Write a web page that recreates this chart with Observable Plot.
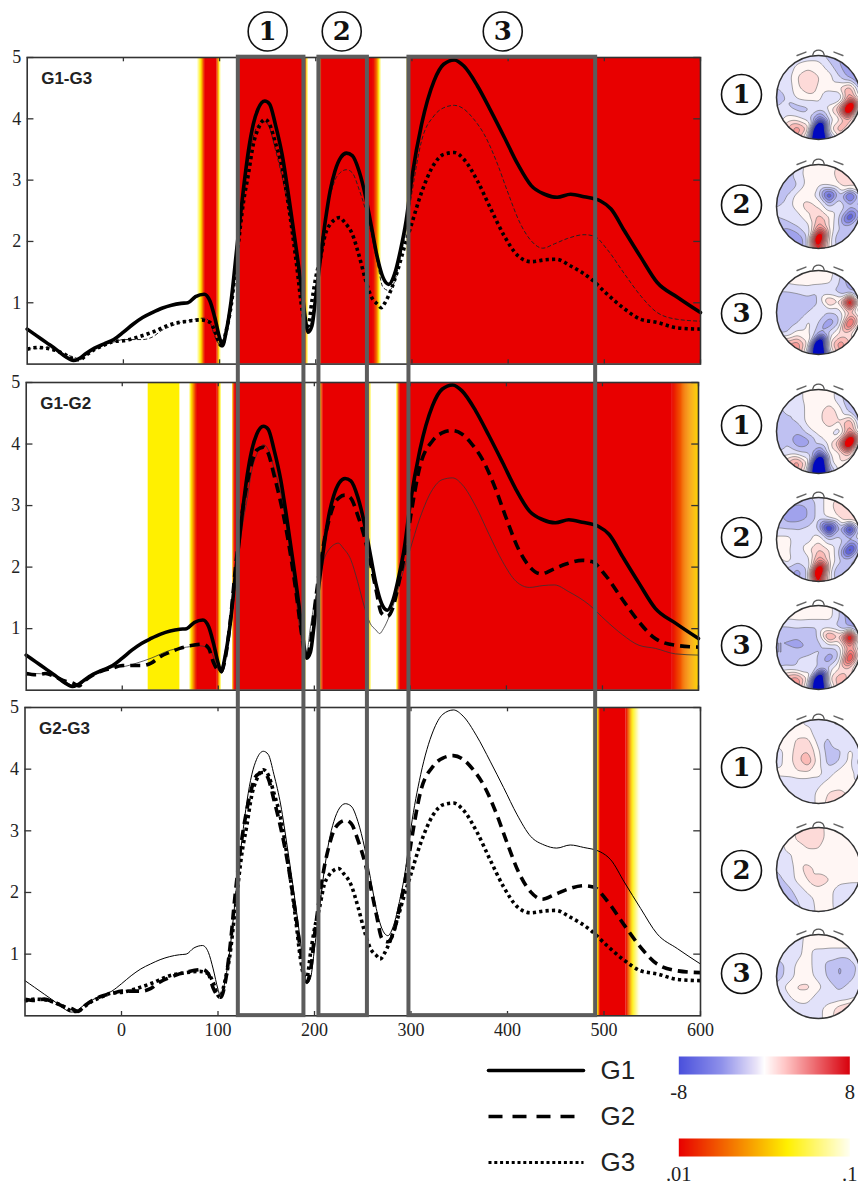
<!DOCTYPE html>
<html>
<head>
<meta charset="utf-8">
<script src="https://cdn.jsdelivr.net/npm/d3@7"></script>
<script src="https://cdn.jsdelivr.net/npm/@observablehq/plot@0.6"></script>
<style>
html,body{margin:0;padding:0;background:#fff;}
#page{position:relative;width:858px;height:1185px;overflow:hidden;background:#fff;}
#page>svg{position:absolute;background:transparent;}
</style>
</head>
<body>
<div id="page"></div>
<script>
// ---------- curves (ms, amplitude) ----------
const timesG1=[-100,-90,-80,-70,-60,-52,-45,-40,-30,-20,-10,0,10,20,30,40,50,60,67,75,84,90,95,100,103,107,112,118,125,130,135,140,147,152,158,165,172,180,186,190,192,196,200,205,210,215,220,226,232,238,245,252,258,264,270,276,282,288,294,300,310,323,333,344,354,368,382,396,410,424,438,451,465,479,496,507,521,538,555,576,600];
const valuesG1=[.57,.46,.35,.24,.12,.06,.10,.16,.26,.33,.40,.52,.65,.76,.84,.91,.96,.99,1.0,1.10,1.14,1.03,.76,.43,.30,.54,1.03,1.9,2.88,3.48,3.91,4.16,4.29,4.24,3.91,3.42,2.72,1.85,1.14,.65,.52,.62,1.09,1.74,2.34,2.83,3.15,3.37,3.44,3.4,3.15,2.72,2.23,1.74,1.41,1.30,1.47,1.85,2.34,3.05,3.91,4.62,4.89,4.96,4.86,4.54,4.13,3.70,3.26,2.91,2.77,2.72,2.77,2.73,2.66,2.53,2.17,1.74,1.33,1.09,.84];
const timesG2=[-100,-90,-80,-70,-60,-52,-45,-40,-30,-20,-10,0,10,20,30,40,50,60,70,84,90,95,100,103,107,112,118,125,130,135,140,147,152,158,165,172,180,186,190,192,196,200,205,210,215,220,226,232,238,245,252,258,264,270,276,282,288,294,300,310,323,333,344,354,364,375,389,399,413,424,436,448,462,479,489,503,521,538,555,576,600];
const valuesG2=[.27,.25,.27,.22,.15,.12,.07,.14,.25,.32,.36,.40,.40,.40,.44,.55,.62,.68,.72,.75,.68,.45,.32,.30,.5,1.05,2.0,2.9,3.35,3.7,3.9,3.95,3.85,3.5,3.05,2.5,1.7,1.0,.6,.55,.75,1.3,1.9,2.4,2.75,3.0,3.13,3.17,3.12,2.85,2.5,2.1,1.65,1.25,1.2,1.35,1.75,2.2,2.8,3.64,4.05,4.18,4.22,4.16,4.0,3.75,3.26,2.83,2.28,2.01,1.89,1.96,2.05,2.11,2.09,1.87,1.47,1.11,.84,.73,.70];
const timesG3=[-100,-90,-80,-70,-60,-52,-45,-40,-30,-20,-10,0,15,30,50,67,81,90,95,100,102,107,112,118,125,130,135,140,147,152,158,165,172,180,186,189,192,196,200,205,210,215,220,225,230,238,245,252,258,264,268,272,278,285,292,299,310,323,333,344,354,368,382,396,410,424,438,450,465,486,503,521,538,555,576,600];
const valuesG3=[.24,.27,.26,.22,.15,.08,.07,.13,.24,.31,.37,.38,.44,.52,.65,.70,.72,.68,.54,.33,.30,.55,.95,1.75,2.66,3.1,3.58,3.83,3.99,3.91,3.61,3.2,2.55,1.63,.87,.65,.62,1.03,1.41,1.74,2.12,2.28,2.36,2.39,2.31,2.12,1.77,1.36,1.09,.98,.92,1.0,1.2,1.52,1.9,2.25,2.80,3.26,3.42,3.45,3.34,2.99,2.53,2.09,1.77,1.67,1.70,1.71,1.60,1.39,1.14,.90,.73,.68,.59,.57];

// ---------- significance bands: stops of [ms, p] ----------
const bandsG1G3=[
  [[77,.1],[81,.043],[85,.01],[97,.01],[100,.043],[101,.1]],
  [[118,.05],[120,.01],[189,.01],[191,.043],[192,.1]],
  [[203,.1],[204,.043],[206,.01],[260,.01],[264,.02],[266,.043],[268,.1]],
  [[295,.06],[297,.01],[600,.01]]
];
const bandsG1G2=[
  [[27,.043],[60,.043]],
  [[70,.1],[72,.043],[78,.01],[99,.01],[102,.043],[103,.1]],
  [[115,.043],[117,.01],[189,.01],[191,.1]],
  [[205,.1],[206,.043],[209,.01],[255,.01],[258,.043],[259,.1]],
  [[286,.06],[289,.01],[572,.01],[585,.02],[600,.036]]
];
const bandsG2G3=[
  [[488,.1],[494,.043],[496,.01],[523,.01],[530,.043],[537,.1]]
];

// ---------- axes, analysis windows ----------
const xTicks=[0,100,200,300,400,500,600];
const yTicks=[1,2,3,4,5];
const panelNames=["G1-G3","G1-G2","G2-G3"];
const windowStarts=[119.5,203.3,296.9];
const windowEnds=[187.7,253.7,491];
const windowLabels=["1","2","3"];
const windowLabelTimes=[150,227,394.4];

// ---------- scalp maps: 9x9 amplitudes, rows top to bottom ----------
const headA1=[-1,-1,-1,-.5,-.5,-1.5,-2,-2,-2, -1,-.8,.3,.5,.5,-.5,-2,-2.5,-2.5, -1,-.6,1,2.2,1,.5,-1,-2.5,-3, -1,-.8,.8,2,.8,.5,1,2.5,-2, -1.2,-1,.3,.5,.4,-1,-1.5,4,-1, -1,-.8,-1.5,-1.2,-.3,.4,3,16,-2, -1,.3,.3,-.5,-4,-.5,.5,3,-3, 1,2,4,2,-16,.5,3,.5,-3, 1,2,3,-1,-18,-3,1,-1,-2];
const headA2=[-1,-1,-1,.5,.5,.5,1,1,1, -1.5,-1.5,-.5,.5,.5,.5,1.5,1,1, -2,-2,-1,.5,.3,.3,1,1.5,1, -2,-1,.5,.5,-.5,-6,-1,-6,-1, -1,-.5,.5,1.5,1,-1,-.5,-1.5,-.5, -1,-.5,-.5,.8,2.5,1,-1,-6,-1, -1.5,-2,-1,-.5,4,.8,-1,-1,-1, -3,-3,-3,-1,14,.5,-2,-1.5,-1, -3,-3,-3,-1,8,.5,-1.5,-1,-1];
const headA3=[-.5,.5,.5,.5,.5,.5,-.5,-3,-3, -.5,.3,.5,.5,.5,.3,-1,-3,-3, -1,-1,-.8,-.5,-1,-1,-1.5,-2,-2, -2,-2,-1.8,-1.5,-1,2.5,1,12,-1, -2,-2,-2,-1,-.5,-1,-.5,2,-1, -2,-1.8,-1,.3,-1,-3,-1,7,0, -1,-1,.5,.3,-2,-.5,1,1,-1, 2,3,4,1,-14,1,4,2,-1, 2,3,4,-1,-16,-1,3,1,-1];
const headB1=[-1,-1,-.5,.5,.5,.5,-.5,-2,-2, -1,-1,-.5,.5,.5,.5,-.5,-2,-2.5, -1,-1,-1,.5,.5,1.8,.5,-1.5,-2.5, -1.2,-1,-1,.5,.5,2,1,3,-2, -1.5,-1,-1.8,-.5,.5,.5,-1,4,-1.5, -1.5,-1,-3,-2.5,-.5,.5,3,16,-1, -1,-.8,-.8,-1,-4,.2,.8,3,-3, 1,2,4,1,-16,-.5,1,-.5,-3, 1,2,3,-1,-18,-3,.5,-1,-2];
const headB2=[-1,-1,-1,-1,-.5,.5,1,1,1, -1.5,-2,-2.5,-2,-.5,.5,1.8,2,1, -1.5,-2.5,-2.5,-2,-.5,.3,1,2,1, -1,-1,-1,-.7,-1,-8,-1.5,-8,0, .5,.5,-.8,-.5,.8,-1,-.8,-1.5,-.5, .5,.3,-.8,.8,2.2,1,-1,-7,-.7, -.7,.5,-.7,-.5,4,1,-.7,-1,-.7, -1,-1.5,-2.5,-1,15,.5,-2.5,-1,-.7, -1,-1,-2,-1,9,.5,-2,-1,-.7];
const headB3=[.5,.5,.5,.5,.5,.5,-1,-3,-3, -.5,.4,.5,.5,.5,.5,-1,-3,-3, -1,-1,-.8,-1,-1,-.8,-1.5,-2.5,-2, -2,-2,-2,-1.5,-1,4,2,12,-1, -2,-2,-2.2,-2,-1,-1,-.5,4,-1, -2,-2,-1,-.7,-1,-3,-.7,8,-.5, -1,-.5,-.8,-.5,-1,-.5,1,1.5,-1, 2,3,4,1,-14,1,3,1.5,-1, 2,3,4,-1,-16,-1,3,1,-1];
const headC1=[.5,.5,.5,-.5,-.8,-1,-1,-1,-1, .5,.5,.5,.3,-.8,-1,-1,-1,-1, .5,.4,1.2,1.3,-.5,-1.2,.5,-1,-1, -.5,.3,1.5,2,.2,-1.7,-1.2,.4,-1, -.5,.4,1.6,3,.4,-1.5,-1,.4,-1.7, .3,.4,1,1,.4,-.5,.4,.4,-.5, -.5,-.5,-.6,-.6,-.3,.3,.4,.2,0, -.5,-.5,-.6,-.6,.3,1.1,1.3,.5,.3, -.5,-.5,-.6,-.6,.3,1.5,3,1,.3];
const headC2=[.3,.3,1.2,1.5,1.5,.5,.3,.3,.3, .3,.3,1.2,1.8,1.6,.5,.3,.3,.3, -.7,.3,.4,1,1,.4,.3,.3,.3, -.7,-.4,.5,.4,.3,.3,.3,.3,.3, -1,-.7,.4,1.6,.6,.3,.3,.3,.3, -1.3,-.8,.3,1.1,1.7,1.1,.3,.3,.3, -2,-1.3,-.7,.3,.7,.3,-.5,-.8,-.8, -2.5,-1.8,-1,-.5,.4,.3,-.5,-1,-1, -2.5,-2,-1.3,-.6,.3,.3,-.3,-1,-1];
const headC3=[-.5,-.5,-.5,.3,.3,.3,.3,.3,.3, -.7,-.7,-.3,.3,.3,.3,.3,.3,.3, -.8,-.8,-.2,.3,-.5,-.7,-.7,-.7,-.7, -1.6,-.8,.3,.3,-.5,-1.3,-2.2,-1.4,-.7, -1.6,-.7,.3,.4,-.4,-1.2,-2.2,-1.3,-.6, -.7,.3,1.2,1.3,.3,-.5,-1.2,-.7,-.5, -.7,-.4,.7,.4,-.5,-.6,-.6,-.5,.3, -.7,-.7,-.7,-.4,-.3,.5,1.5,2.5,1.2, -.7,-.7,-.7,-.7,-.3,.5,2,3,1.5];
const contourLevels=[-20,-7,-6,-5,-4,-3,-2,-1,0,1,2,3,4,5,6,7,8];
const noseX=[-.14,-.11,-.05,0,.05,.11,.14], noseY=[1.0,1.08,1.12,1.13,1.12,1.08,1.0];
const earLeftX=[-.51,-.3], earLeftY=[1.0,1.08];
const earRightX=[.37,.58], earRightY=[1.08,1.0];

// ---------- legends ----------
const legendNames=["G1","G2","G3"];
const ampBar=[-8,8];
const pBar=[.01,.1];

// ---------- shared scale settings ----------
const pScale={type:"log",domain:[.01,.0178,.043,.1],range:["#e80000","#f26000","#fff000","#fffff2"],clamp:true};
const serif="'Liberation Serif',serif";
const page=document.getElementById("page");
function place(svg,left,top){svg.style.left=left+"px";svg.style.top=top+"px";page.appendChild(svg);return svg;}

function slices(bands){
  const out=[];
  for(const stops of bands){
    for(let i=0;i<stops.length-1;i++){
      const [a,pa]=stops[i],[b,pb]=stops[i+1];
      if(pa===pb){out.push({x1:a,x2:b,p:pa});continue;}
      const n=Math.max(1,Math.round(b-a));
      for(let k=0;k<n;k++){
        const u=(k+.5)/n;
        out.push({x1:a+(b-a)*k/n,x2:a+(b-a)*(k+1)/n+.3,p:Math.exp(Math.log(pa)*(1-u)+Math.log(pb)*u)});
      }
    }
  }
  return out;
}

// ---------- line styles ----------
const thickSolid={strokeWidth:3.6};
const thinSolid={strokeWidth:1};
const hairline={strokeWidth:.8,stroke:"#333"};
const thinDash={strokeWidth:1,strokeDasharray:"4,2.2",stroke:"#222",strokeLinecap:"butt"};
const thickDash={strokeWidth:3.6,strokeDasharray:"10,6",strokeLinecap:"butt"};
const thickDot={strokeWidth:3.6,strokeDasharray:"3.2,3.2",strokeLinecap:"butt"};
const seriesG1=[valuesG1,timesG1],seriesG2=[valuesG2,timesG2],seriesG3=[valuesG3,timesG3];
const curve=(s,style)=>Plot.line(s[0],{x:s[1],y:s[0],curve:"monotone-x",stroke:"#000",...style});

const panels=[
 {name:panelNames[0],bands:bandsG1G3,top:56.7,bottom:363.3,left:26.7,right:700,
  lines:[[seriesG2,thinDash],[seriesG3,thickDot],[seriesG1,thickSolid]]},
 {name:panelNames[1],bands:bandsG1G2,top:382.3,bottom:690,left:25.7,right:698,
  lines:[[seriesG3,hairline],[seriesG2,thickDash],[seriesG1,thickSolid]]},
 {name:panelNames[2],bands:bandsG2G3,top:706.7,bottom:1015,left:24.5,right:700,axis:true,
  lines:[[seriesG1,thinSolid],[seriesG2,thickDash],[seriesG3,thickDot]]}
];

for(const p of panels){
  const mt=12,mb=p.axis?34:12;
  const svg=Plot.plot({
    width:858,height:p.bottom-p.top+mt+mb,
    marginTop:mt,marginBottom:mb,marginLeft:p.left,marginRight:858-p.right,
    style:{fontFamily:serif,fontSize:"18px",background:"transparent",color:"#222"},
    x:{domain:[-100,600],axis:null},
    y:{domain:[0,5],axis:null},
    color:pScale,
    marks:[
      Plot.rect(slices(p.bands),{x1:"x1",x2:"x2",y1:0,y2:5,fill:"p"}),
      ...p.lines.map(([s,st])=>curve(s,st)),
      Plot.ruleX(xTicks,{y1:0,y2:.07,stroke:"#333",strokeWidth:1.3}),
      Plot.ruleX(xTicks,{y1:4.93,y2:5,stroke:"#333",strokeWidth:1.3}),
      Plot.ruleY(yTicks,{x1:-100,x2:-93,stroke:"#333",strokeWidth:1.3}),
      Plot.ruleY(yTicks,{x1:593,x2:600,stroke:"#333",strokeWidth:1.3}),
      Plot.frame({stroke:"#333",strokeWidth:1.6}),
      Plot.axisY(yTicks,{tickSize:0,tickPadding:6,tickFormat:d=>String(d),label:null,fontSize:18,fill:"#222"}),
      ...(p.axis?[Plot.axisX(xTicks,{tickSize:0,tickPadding:7,tickFormat:d=>String(d),label:null,fontSize:18,fill:"#222"})]:[]),
      Plot.text([p.name],{frameAnchor:"top-left",dx:14,dy:21,text:d=>d,lineAnchor:"middle",textAnchor:"start",
        fontFamily:"'Liberation Sans',sans-serif",fontWeight:"bold",fontSize:17,fill:"#222"})
    ]
  });
  place(svg,0,p.top-mt);
}

// ---------- scalp maps with their row badges ----------
const headColor={type:"linear",clamp:true,domain:[-8,-3,-2,-1,0,1,2,8],
  range:["#0008c0","#a0a2ec","#bfc1f2","#e2e2fa","#fff6f4","#fddad8","#fbbab6","#e60000"]};
const headRows=[
 {grid:headA1,cy:97,badge:94,tag:"1"},{grid:headA2,cy:205.5,badge:204,tag:"2"},{grid:headA3,cy:312,badge:313,tag:"3"},
 {grid:headB1,cy:431,badge:425,tag:"1"},{grid:headB2,cy:539,badge:537,tag:"2"},{grid:headB3,cy:647,badge:645,tag:"3"},
 {grid:headC1,cy:761,badge:767,tag:"1"},{grid:headC2,cy:869,badge:870,tag:"2"},{grid:headC3,cy:976,badge:973,tag:"3"}
];
const R=42,CX=818,PL=716;
headRows.forEach((h,i)=>{
  const W=150,H=104;
  const svg=Plot.plot({
    width:W,height:H,margin:0,
    style:{background:"transparent"},
    x:{domain:[(PL-CX)/R,(PL+W-CX)/R],range:[0,W],axis:null},
    y:{domain:[-H/2/R,H/2/R],range:[H,0],axis:null},
    color:headColor,
    marks:[
      Plot.contour(h.grid,{
        x:(d,j)=>-1+.25*(j%9),y:(d,j)=>1-.25*Math.floor(j/9),fill:d=>d,
        x1:-1,x2:1,y1:1,y2:-1,
        interpolate:"barycentric",pixelSize:1,blur:2,
        thresholds:contourLevels,stroke:"#6a6a6a",strokeWidth:.6}),
      Plot.dot([0],{x:()=>0,y:()=>0,r:R,fill:"none",stroke:"#333",strokeWidth:1.5}),
      Plot.line(noseX,{x:noseX,y:noseY,curve:"monotone-x",stroke:"#555",strokeWidth:1.3}),
      Plot.line(earLeftX,{x:earLeftX,y:earLeftY,stroke:"#666",strokeWidth:1.5}),
      Plot.line(earRightX,{x:earRightX,y:earRightY,stroke:"#666",strokeWidth:1.5}),
      Plot.dot([h.tag],{x:()=>(741-CX)/R,y:()=>(h.cy-h.badge)/R,r:20,fill:"#fff",stroke:"#111",strokeWidth:1.6}),
      Plot.text([h.tag],{x:()=>(741-CX)/R,y:()=>(h.cy-h.badge)/R,text:d=>d,fontFamily:"'DejaVu Serif',serif",fontWeight:"bold",fontSize:26,fill:"#111"})
    ]
  });
  const id="scalp"+i;
  const d=d3.select(svg);
  d.append("clipPath").attr("id",id).append("circle").attr("cx",CX-PL).attr("cy",H/2).attr("r",R);
  d.selectAll('g[aria-label="contour"]').attr("clip-path","url(#"+id+")");
  place(svg,PL,h.cy-H/2);
});

// ---------- line legend ----------
const legendStyles={G1:thickSolid,G2:{strokeWidth:3.6,strokeDasharray:"14,10",strokeLinecap:"butt"},G3:{strokeWidth:3,strokeDasharray:"3,2.8",strokeLinecap:"butt"}};
place(Plot.plot({
  width:190,height:140,margin:0,marginLeft:8,marginRight:87,
  style:{background:"transparent"},
  x:{domain:[0,1],axis:null},
  y:{type:"point",domain:legendNames,range:[24,117],padding:0,axis:null},
  marks:[
    ...legendNames.map(n=>Plot.line([0,1],{x:d=>d,y:()=>n,stroke:"#000",...legendStyles[n]})),
    Plot.text(legendNames,{x:()=>1.18,y:d=>d,text:d=>d,textAnchor:"start",fontFamily:"'Liberation Sans',sans-serif",fontSize:26,fill:"#222"})
  ]
}),480,1045);

// ---------- colour bars ----------
function colorBar(domain,xType,color,ticks,fmt,top){
  place(Plot.plot({
    width:208,height:62,margin:0,marginLeft:28.3,marginRight:8.7,marginBottom:44,
    style:{fontFamily:serif,fontSize:"20px",background:"transparent",color:"#222"},
    x:{type:xType,domain,axis:null},
    y:{domain:[0,1],axis:null},
    color,
    marks:[
      Plot.raster({x1:domain[0],x2:domain[1],y1:0,y2:1,pixelSize:1,fill:(x)=>x}),
      Plot.axisX(ticks,{tickSize:0,tickPadding:10,tickFormat:fmt,label:null,fontSize:20.5,fill:"#222"})
    ]
  }),650,top);
}
colorBar(ampBar,"linear",{type:"linear",domain:[-8,-4,-.8,0,2,8],range:["#4a50dc","#8f91ea","#e8e2f8","#ffffff","#ffc4c4","#d8000c"]},ampBar,d=>String(d),1056);
colorBar(pBar,"log",pScale,pBar,d=>d===.01?".01":".1",1138);

// ---------- analysis windows and their numbers, on top of everything ----------
const pxPerUnit=61.32;
place(Plot.plot({
  width:858,height:1185,margin:0,
  style:{background:"transparent",pointerEvents:"none"},
  x:{domain:[-100,600],range:[26.7,700],axis:null},
  y:{domain:[5-(1185-56.7)/pxPerUnit,5+56.7/pxPerUnit],range:[1185,0],axis:null},
  marks:[
    Plot.rect(windowStarts,{x1:windowStarts,x2:windowEnds,y1:5,y2:-10.63,fill:"none",stroke:"#5c5c5c",strokeWidth:4}),
    Plot.dot(windowLabels,{x:windowLabelTimes,y:()=>5.42,r:19.5,fill:"#fff",stroke:"#111",strokeWidth:1.6}),
    Plot.text(windowLabels,{x:windowLabelTimes,y:()=>5.42,text:d=>d,fontFamily:"'DejaVu Serif',serif",fontWeight:"bold",fontSize:26,fill:"#111"})
  ]
}),0,0);
</script>
</body>
</html>
